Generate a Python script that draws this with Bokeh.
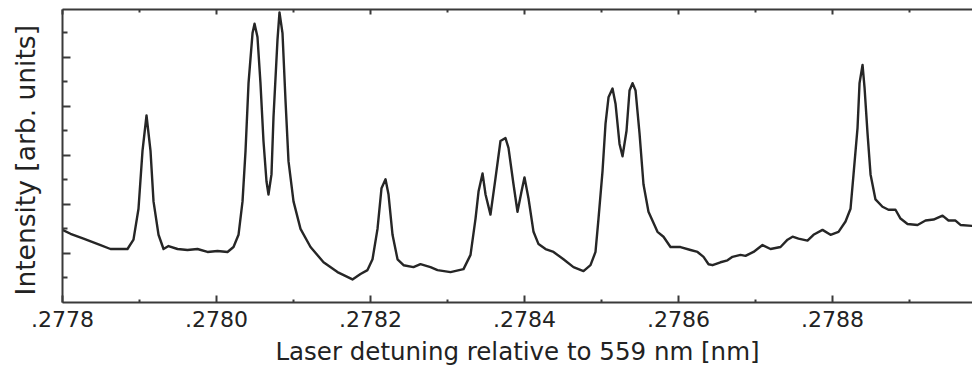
from bokeh.plotting import figure
from bokeh.models import LinearAxis, FixedTicker, Range1d
from bokeh.embed import file_html
from bokeh.resources import INLINE

# Laser detuning relative to 559 nm [nm]
detuning = [
    0.2778000, 0.2778104, 0.2778273, 0.2778494, 0.2778623, 0.2778844, 0.2778922, 0.2778987,
    0.2779039, 0.2779091, 0.2779143, 0.2779182, 0.2779247, 0.2779312, 0.2779377, 0.2779494,
    0.2779623, 0.2779753, 0.2779883, 0.2780013, 0.2780143, 0.2780221, 0.2780286, 0.2780338,
    0.2780377, 0.2780416, 0.2780468, 0.2780494, 0.2780532, 0.2780571, 0.2780610, 0.2780649,
    0.2780675, 0.2780714, 0.2780740, 0.2780792, 0.2780818, 0.2780857, 0.2780896, 0.2780935,
    0.2781000, 0.2781091, 0.2781221, 0.2781390, 0.2781571, 0.2781766, 0.2781870, 0.2781961,
    0.2782026, 0.2782091, 0.2782143, 0.2782195, 0.2782234, 0.2782286, 0.2782351, 0.2782429,
    0.2782558, 0.2782649, 0.2782779, 0.2782870, 0.2783039, 0.2783208, 0.2783299, 0.2783364,
    0.2783403, 0.2783455, 0.2783494, 0.2783558, 0.2783623, 0.2783688, 0.2783753, 0.2783792,
    0.2783857, 0.2783909, 0.2783961, 0.2784000, 0.2784052, 0.2784117, 0.2784182, 0.2784273,
    0.2784377, 0.2784506, 0.2784636, 0.2784766, 0.2784857, 0.2784922, 0.2784961, 0.2785013,
    0.2785052, 0.2785091, 0.2785143, 0.2785182, 0.2785234, 0.2785273, 0.2785325, 0.2785364,
    0.2785403, 0.2785442, 0.2785494, 0.2785545, 0.2785610, 0.2785727, 0.2785805, 0.2785896,
    0.2786026, 0.2786156, 0.2786247, 0.2786325, 0.2786390, 0.2786442, 0.2786545, 0.2786636,
    0.2786701, 0.2786805, 0.2786870, 0.2786974, 0.2787091, 0.2787195, 0.2787325, 0.2787416,
    0.2787481, 0.2787558, 0.2787675, 0.2787753, 0.2787870, 0.2787974, 0.2788078, 0.2788169,
    0.2788234, 0.2788273, 0.2788325, 0.2788351, 0.2788390, 0.2788416, 0.2788455, 0.2788494,
    0.2788558, 0.2788649, 0.2788727, 0.2788818, 0.2788883, 0.2788974, 0.2789104, 0.2789208,
    0.2789312, 0.2789429, 0.2789506, 0.2789597, 0.2789662, 0.2789818,
]

# Intensity [arb. units]
intensity = [
    1.48, 1.40, 1.30, 1.17, 1.09, 1.09, 1.28, 1.91,
    3.09, 3.81, 3.09, 2.06, 1.38, 1.09, 1.15, 1.09,
    1.07, 1.09, 1.03, 1.05, 1.03, 1.13, 1.38, 2.06,
    3.09, 4.47, 5.49, 5.68, 5.41, 4.47, 3.29, 2.47,
    2.20, 2.61, 3.77, 5.35, 5.91, 5.49, 4.12, 2.88,
    2.06, 1.50, 1.13, 0.82, 0.62, 0.47, 0.58, 0.66,
    0.88, 1.50, 2.33, 2.51, 2.20, 1.38, 0.88, 0.76,
    0.72, 0.78, 0.72, 0.66, 0.62, 0.68, 0.97, 1.71,
    2.26, 2.63, 2.20, 1.79, 2.53, 3.29, 3.35, 3.15,
    2.41, 1.85, 2.26, 2.55, 2.12, 1.44, 1.19, 1.09,
    1.03, 0.88, 0.72, 0.64, 0.76, 1.03, 1.71, 2.67,
    3.64, 4.18, 4.36, 4.05, 3.23, 2.98, 3.50, 4.32,
    4.47, 4.32, 3.44, 2.41, 1.85, 1.44, 1.34, 1.13,
    1.13, 1.07, 1.03, 0.93, 0.78, 0.76, 0.82, 0.86,
    0.93, 0.97, 0.95, 1.03, 1.17, 1.09, 1.13, 1.28,
    1.34, 1.30, 1.26, 1.38, 1.48, 1.38, 1.44, 1.65,
    1.91, 2.61, 3.56, 4.47, 4.84, 4.38, 3.44, 2.61,
    2.10, 1.95, 1.89, 1.89, 1.71, 1.60, 1.58, 1.67,
    1.69, 1.77, 1.67, 1.67, 1.58, 1.56,
]

x_ticks = [0.2778, 0.2780, 0.2782, 0.2784, 0.2786, 0.2788]
x_tick_labels = [".2778", ".2780", ".2782", ".2784", ".2786", ".2788"]
x_minor_ticks = [0.2779, 0.2781, 0.2783, 0.2785, 0.2787, 0.2789]
y_ticks = [1, 2, 3, 4, 5]
y_minor_ticks = [0.5, 1.5, 2.5, 3.5, 4.5, 5.5]

FONT = "DejaVu Sans"
INK = "#222222"
AXIS = "#3a3a3a"

p = figure(
    width=972, height=368,
    output_backend="svg", toolbar_location=None,
    x_range=Range1d(0.2778, 0.2789818), y_range=Range1d(0, 5.97),
    x_axis_location=None, y_axis_location=None,
    min_border_left=62, min_border_right=0, min_border_top=9, min_border_bottom=40,
)
p.outline_line_color = None
p.grid.visible = False
p.background_fill_color = "white"
p.border_fill_color = "white"

p.line(detuning, intensity, line_color="#262626", line_width=2.4, line_join="round")

xt = FixedTicker(ticks=x_ticks, minor_ticks=x_minor_ticks)
overrides = {t: s for t, s in zip(x_ticks, x_tick_labels)}

bottom = LinearAxis(ticker=xt, axis_label="Laser detuning relative to 559 nm [nm]")
bottom.major_label_overrides = overrides
bottom.major_label_text_font = FONT
bottom.major_label_text_font_size = "22px"
bottom.major_label_text_color = INK
bottom.major_label_standoff = 8
bottom.axis_label_text_font = FONT
bottom.axis_label_text_font_size = "24.5px"
bottom.axis_label_text_font_style = "normal"
bottom.axis_label_text_color = INK
bottom.axis_label_standoff = 7
bottom.axis_line_color = AXIS
bottom.axis_line_width = 2
bottom.major_tick_in = 7
bottom.major_tick_out = 0
bottom.minor_tick_in = 3
bottom.minor_tick_out = 0
bottom.major_tick_line_color = AXIS
bottom.minor_tick_line_color = AXIS
bottom.major_tick_line_width = 2
bottom.minor_tick_line_width = 2
p.add_layout(bottom, "below")

top = LinearAxis(ticker=xt)
top.major_label_text_font_size = "0px"
top.major_label_standoff = 0
top.axis_line_color = AXIS
top.axis_line_width = 2
top.major_tick_in = 5
top.major_tick_out = 0
top.minor_tick_in = 3
top.minor_tick_out = 0
top.major_tick_line_color = AXIS
top.minor_tick_line_color = AXIS
top.major_tick_line_width = 2
top.minor_tick_line_width = 2
p.add_layout(top, "above")

left = LinearAxis(ticker=FixedTicker(ticks=y_ticks, minor_ticks=y_minor_ticks),
                  axis_label="Intensity  [arb. units]")
left.major_label_text_font_size = "0px"
left.major_label_standoff = 0
left.axis_label_text_font = FONT
left.axis_label_text_font_size = "26.5px"
left.axis_label_text_font_style = "normal"
left.axis_label_text_color = INK
left.axis_label_standoff = 22
left.axis_line_color = AXIS
left.axis_line_width = 2
left.major_tick_in = 8
left.major_tick_out = 0
left.minor_tick_in = 5
left.minor_tick_out = 0
left.major_tick_line_color = AXIS
left.minor_tick_line_color = AXIS
left.major_tick_line_width = 2
left.minor_tick_line_width = 2
p.add_layout(left, "left")

open("out.html", "w").write(file_html(p, INLINE))
